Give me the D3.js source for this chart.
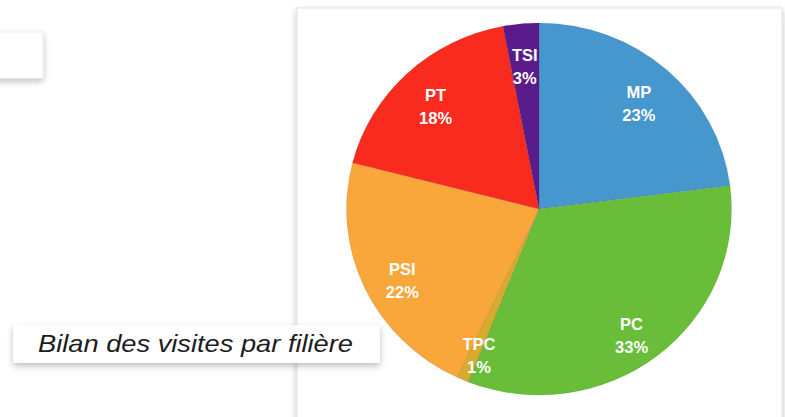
<!DOCTYPE html>
<html>
<head>
<meta charset="utf-8">
<script src="https://cdn.jsdelivr.net/npm/d3@7"></script>
<style>
  html, body { margin: 0; padding: 0; background: #fff; }
  svg { display: block; }
</style>
</head>
<body>
<div id="chart"></div>
<script>
// data
const filieres = ['MP', 'PC', 'TPC', 'PSI', 'PT', 'TSI'];
const parts = [23, 33, 1, 22, 18, 3];
const colors = ['#4597cd', '#69bd38', '#d8ab2e', '#f9a63b', '#f92b1e', '#5a1b8b'];
const caption = 'Bilan des visites par filière';

const width = 785;
const height = 417;

const svg = d3.select('#chart').append('svg')
  .attr('width', width)
  .attr('height', height);

const defs = svg.append('defs');
const shadow = defs.append('filter')
  .attr('id', 'shadow')
  .attr('x', '-20%').attr('y', '-20%')
  .attr('width', '140%').attr('height', '160%');
shadow.append('feDropShadow')
  .attr('dx', 0).attr('dy', 3)
  .attr('stdDeviation', 3)
  .attr('flood-color', '#000')
  .attr('flood-opacity', 0.25);

// little box at the top left
svg.append('rect')
  .attr('x', -10).attr('y', 32)
  .attr('width', 53).attr('height', 46)
  .attr('fill', '#fff')
  .attr('stroke', '#eee')
  .attr('filter', 'url(#shadow)');

// card holding the pie
svg.append('rect')
  .attr('x', 297).attr('y', 8)
  .attr('width', 485).attr('height', 430)
  .attr('fill', '#fff')
  .attr('stroke', '#e2e2e2')
  .attr('filter', 'url(#shadow)');

const cx = 539;
const cy = 209;
const r = 186;
const sx = 1.035;

const pie = d3.pie().sort(null).value(d => d.value);
const data = pie(filieres.map((name, i) => ({ name, value: parts[i], color: colors[i] })));

const arc = d3.arc().innerRadius(0).outerRadius(r);
const labelArc = d3.arc().innerRadius(151).outerRadius(151);

const g = svg.append('g')
  .attr('transform', `translate(${cx}, ${cy}) scale(${sx}, 1)`);

g.selectAll('path')
  .data(data)
  .enter()
  .append('path')
  .attr('d', arc)
  .attr('fill', d => d.data.color)
  .attr('stroke', 'rgba(0,0,0,0.08)')
  .attr('stroke-width', 1);

const labels = svg.append('g')
  .attr('transform', `translate(${cx}, ${cy})`)
  .selectAll('text')
  .data(data)
  .enter()
  .append('text')
  .attr('transform', d => {
    const [x, y] = labelArc.centroid(d);
    return `translate(${x}, ${y})`;
  })
  .attr('text-anchor', 'middle')
  .attr('fill', '#fff')
  .style('font-family', '"Liberation Sans", Arial, sans-serif')
  .style('font-weight', 'bold')
  .style('font-size', '16.5px');

labels.append('tspan')
  .attr('x', 0)
  .attr('dy', 2)
  .text(d => d.data.name);

labels.append('tspan')
  .attr('x', 0)
  .attr('dy', 23)
  .text(d => d.data.value + '%');

// caption box
svg.append('rect')
  .attr('x', 13).attr('y', 325)
  .attr('width', 367).attr('height', 38)
  .attr('fill', '#fff')
  .attr('filter', 'url(#shadow)');

svg.append('text')
  .attr('x', 38)
  .attr('y', 352)
  .attr('fill', '#1c1c22')
  .attr('textLength', 315)
  .attr('lengthAdjust', 'spacingAndGlyphs')
  .style('font-family', '"Liberation Sans", Arial, sans-serif')
  .style('font-style', 'italic')
  .style('font-size', '24px')
  .text(caption);
</script>
</body>
</html>
